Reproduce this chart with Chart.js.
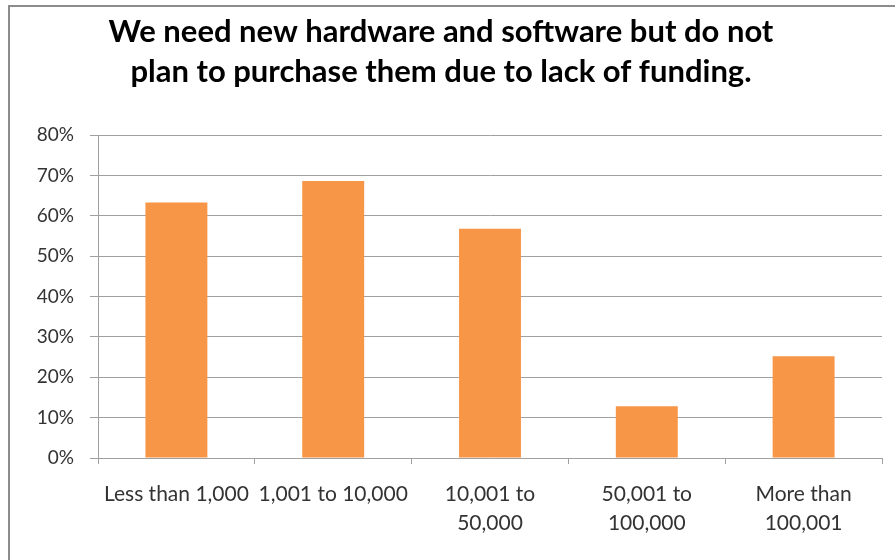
<!DOCTYPE html>
<html>
<head>
<meta charset="utf-8">
<script src="https://cdn.jsdelivr.net/npm/chart.js@4"></script>
<style>
  html, body { margin: 0; padding: 0; background: #fff; overflow: hidden; }
  #wrap { position: relative; width: 895px; height: 560px; }
  #frame {
    position: absolute; left: 8px; top: 5px; width: 1000px; height: 1000px;
    border-left: 2px solid #8c8c8c; border-top: 2px solid #8c8c8c;
  }
  #chart { position: absolute; left: 0; top: 0; }
</style>
</head>
<body>
<div id="wrap">
  <div id="frame"></div>
  <canvas id="chart" width="895" height="560"></canvas>
</div>
<script>
/* 数据 */
const titleLines = [
  'We need new hardware and software but do not',
  'plan to purchase them due to lack of funding.'
];
const categories = [
  'Less than 1,000',
  '1,001 to 10,000',
  ['10,001 to', '50,000'],
  ['50,001 to', '100,000'],
  ['More than', '100,001']
];
const shares = [63.3, 68.6, 56.8, 12.8, 25.2];   // 百分比
const yMax = 80;
const yStep = 10;

const FONT = 'Lato, "Open Sans", sans-serif';
const gridColor = '#a0a0a0';

new Chart(document.getElementById('chart'), {
  type: 'bar',
  data: {
    labels: categories,
    datasets: [{
      data: shares,
      backgroundColor: '#f79646',
      borderWidth: 0,
      categoryPercentage: 1,
      barPercentage: 0.395
    }]
  },
  options: {
    responsive: false,
    animation: false,
    layout: { padding: { left: 0, right: 13, top: 0, bottom: 0 } },
    plugins: {
      legend: { display: false },
      tooltip: { enabled: false },
      title: {
        display: true,
        text: titleLines,
        color: '#000',
        font: { family: FONT, size: 31, weight: 'bold', lineHeight: '40px' },
        padding: { top: 12, bottom: 43 }
      }
    },
    scales: {
      x: {
        grid: { drawOnChartArea: false, drawTicks: true, tickLength: 6, color: gridColor, offset: true },
        border: { color: gridColor, width: 1 },
        ticks: {
          color: '#333',
          padding: 16,
          maxRotation: 0,
          autoSkip: false,
          font: { family: FONT, size: 21, lineHeight: '29px' }
        },
        afterFit(scale) { scale.height = 102; }
      },
      y: {
        min: 0,
        max: yMax,
        grid: { color: gridColor, tickLength: 8 },
        border: { color: gridColor, width: 1 },
        ticks: {
          stepSize: yStep,
          color: '#333',
          padding: 16,
          font: { family: FONT, size: 19 },
          callback: v => v + '%'
        },
        afterFit(scale) { scale.width = 98; }
      }
    }
  }
});
</script>
</body>
</html>
